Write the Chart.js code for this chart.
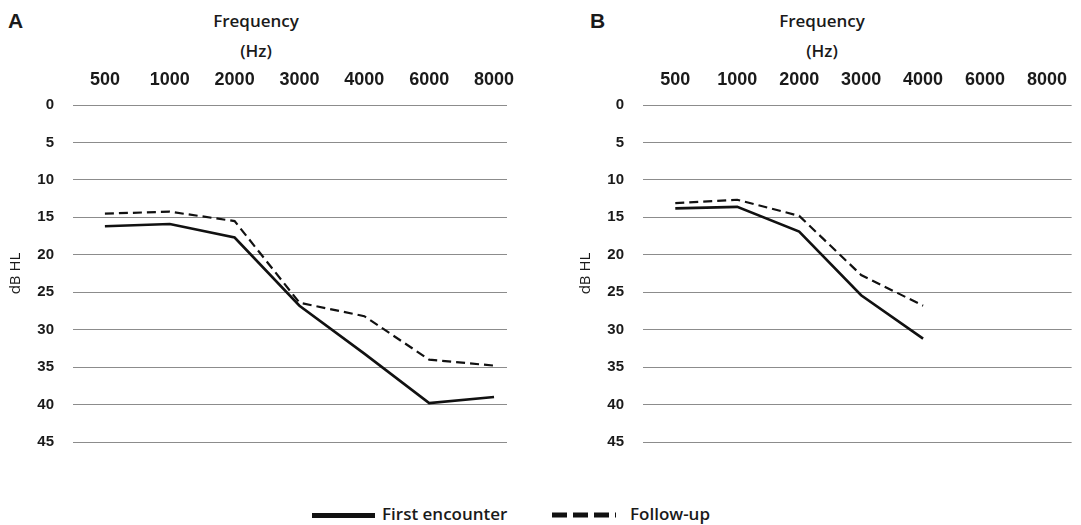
<!DOCTYPE html>
<html>
<head>
<meta charset="utf-8">
<script src="https://cdn.jsdelivr.net/npm/chart.js@4.4.0/dist/chart.umd.min.js"></script>
<style>
  body { margin: 0; background: #fff; width: 1081px; height: 525px; position: relative; overflow: hidden;
         font-family: "Open Sans", sans-serif; color: #1a1a1a; }
  .panel { position: absolute; top: 0; height: 470px; }
  .letter { position: absolute; top: 10px; font: bold 21px/22px "Liberation Sans", Arial, sans-serif; }
  .ttl { position: absolute; top: 6px; width: 140px; text-align: center; font-weight: 600; font-size: 17px; line-height: 30px; }
  .lg { position: absolute; top: 503px; font-weight: 600; font-size: 17px; line-height: 22px; }
</style>
</head>
<body>
<div class="letter" style="left:8px">A</div>
<div class="letter" style="left:590px">B</div>
<div class="ttl" style="left:186px">Frequency<br>(Hz)</div>
<div class="ttl" style="left:752px">Frequency<br>(Hz)</div>

<div class="panel" style="left:0;width:540px"><canvas id="chartA"></canvas></div>
<div class="panel" style="left:570px;width:511px"><canvas id="chartB"></canvas></div>

<div style="position:absolute;left:312px;top:513px;width:63px;height:5px;background:#111"></div>
<div class="lg" style="left:382px">First encounter</div>
<svg style="position:absolute;left:552px;top:510px" width="64" height="10">
  <line x1="0" y1="5" x2="64" y2="5" stroke="#111" stroke-width="5" stroke-dasharray="15 6"/>
</svg>
<div class="lg" style="left:630px">Follow-up</div>

<script>
const freqLabels = ['500', '1000', '2000', '3000', '4000', '6000', '8000'];
const yTicks = [0, 5, 10, 15, 20, 25, 30, 35, 40, 45];

// panel A
const firstA = [16.2, 15.9, 17.7, 26.8, 33.2, 39.8, 39.0];
const followA = [14.5, 14.25, 15.5, 26.4, 28.2, 34.0, 34.8];
// panel B (no data above 4000 Hz)
const firstB = [13.8, 13.6, 16.9, 25.4, 31.2];
const followB = [13.1, 12.65, 14.8, 22.7, 26.8];

Chart.defaults.font.family = '"Open Sans", sans-serif';
Chart.defaults.color = '#1a1a1a';

function toPoints(values) {
    return values.map((v, i) => ({ x: i, y: v }));
}

function makeChart(id, first, follow, xMin, xMax, padRight) {
    const ctx = document.getElementById(id).getContext('2d');
    return new Chart(ctx, {
        type: 'line',
        data: {
            datasets: [
                {
                    label: 'First encounter',
                    data: toPoints(first),
                    borderColor: '#111',
                    borderWidth: 2.6,
                    pointRadius: 0,
                    tension: 0,
                },
                {
                    label: 'Follow-up',
                    data: toPoints(follow),
                    borderColor: '#111',
                    borderWidth: 2.2,
                    borderDash: [9, 5],
                    pointRadius: 0,
                    tension: 0,
                },
            ],
        },
        options: {
            responsive: true,
            maintainAspectRatio: false,
            animation: false,
            layout: { padding: { left: 0, right: padRight, top: 0, bottom: 24 } },
            scales: {
                x: {
                    type: 'linear',
                    position: 'top',
                    min: xMin,
                    max: xMax,
                    grid: { display: false, drawTicks: false },
                    border: { display: false },
                    afterBuildTicks: (s) => { s.ticks = freqLabels.map((_, i) => ({ value: i })); },
                    afterFit: (s) => { s.height = 105; },
                    ticks: {
                        autoSkip: false,
                        maxRotation: 0,
                        padding: 14,
                        color: '#1a1a1a',
                        font: { family: '"Liberation Sans", Arial, sans-serif', size: 18, weight: 'bold' },
                        callback: (v) => freqLabels[v],
                    },
                },
                y: {
                    reverse: true,
                    min: 0,
                    max: 45,
                    afterBuildTicks: (s) => { s.ticks = yTicks.map((v) => ({ value: v })); },
                    afterFit: (s) => { s.width = 73; },
                    grid: { color: '#8c8c8c', lineWidth: 1, drawTicks: false },
                    border: { display: false },
                    ticks: {
                        padding: 19,
                        color: '#1a1a1a',
                        font: { family: '"Liberation Sans", Arial, sans-serif', size: 15, weight: 'bold' },
                    },
                    title: {
                        display: true,
                        text: 'dB HL',
                        color: '#1a1a1a',
                        padding: 7,
                        font: { size: 15 },
                    },
                },
            },
            plugins: {
                legend: { display: false },
                tooltip: { enabled: false },
            },
        },
    });
}

makeChart('chartA', firstA, followA, -0.492, 6.2, 33);
makeChart('chartB', firstB, followB, -0.521, 6.398, 0);
</script>
</body>
</html>
